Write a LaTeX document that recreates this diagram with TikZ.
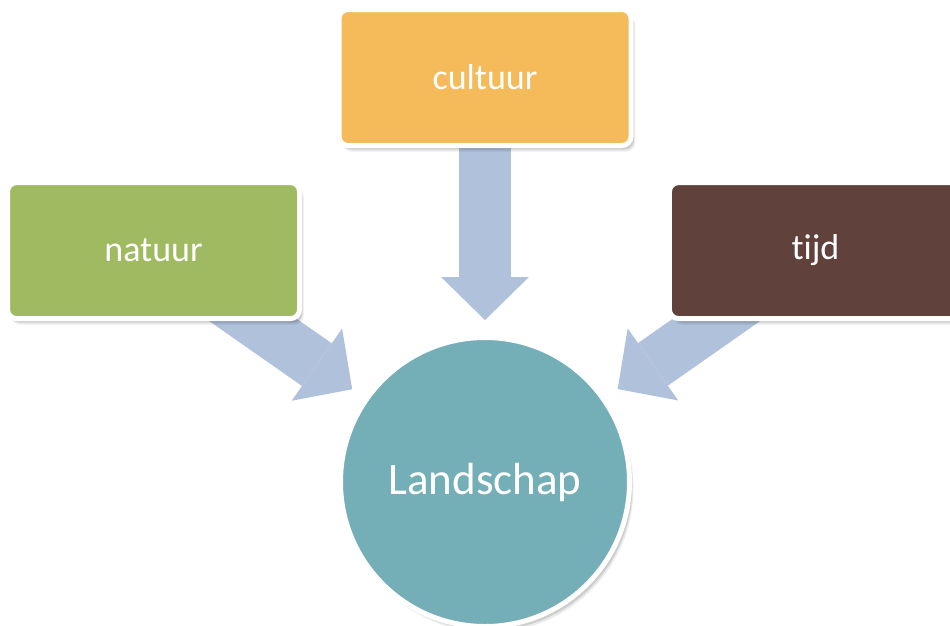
\documentclass[tikz,border=0pt]{standalone}
\usepackage{fontspec}
\setmainfont{Carlito}[Ligatures=NoCommon]
\usepackage{tikz}
\usetikzlibrary{positioning, shadows, backgrounds, arrows.meta}
\definecolor{natuurgreen}{HTML}{9FBA60}
\definecolor{cultuurorange}{HTML}{F5BB5A}
\definecolor{tijdbrown}{HTML}{60413B}
\definecolor{landteal}{HTML}{74AEB6}
\definecolor{arrowblue}{HTML}{B0C1DC}

\begin{document}
\begin{tikzpicture}[node distance=1cm, auto]
    % Define styles
    \tikzstyle{soft shadow} = [
        general shadow={shadow xshift=2pt, shadow yshift=-2pt, opacity=0.12, fill=black},
        general shadow={shadow xshift=3pt, shadow yshift=-4pt, opacity=0.12, fill=black},
        general shadow={shadow xshift=4pt, shadow yshift=-6pt, opacity=0.08, fill=black}]
    \tikzstyle{block} = [rectangle, draw=white, line width=5pt, rounded corners=9pt,
        minimum width=292pt, minimum height=136pt, text=white,
        font=\fontsize{36}{40}\selectfont, soft shadow]
    \tikzstyle{hub} = [circle, draw=white, line width=5pt, fill=landteal,
        minimum size=289pt, text=white, font=\fontsize{45}{50}\selectfont, soft shadow]
    \tikzstyle{line} = [draw=arrowblue, line width=52pt,
        -{Triangle[width=88pt, length=43pt, line width=0pt]}, shorten >=15pt]

    \useasboundingbox (0,0) rectangle (950pt,-625pt);

    % Place nodes
    \node [hub] (landschap) at (485pt,-482pt) {Landschap};
    \node [block, fill=cultuurorange, above=187pt of landschap] (cultuur) {cultuur};
    \node [block, fill=natuurgreen, above left=57pt and 79pt of landschap] (natuur) {natuur};
    \node [block, fill=tijdbrown, above right=57pt and 78pt of landschap] (tijd) {tijd};

    % Draw edges
    \begin{scope}[on background layer]
        \path [line] (cultuur.center) -- (landschap);
        \path [line] (natuur.center) -- (landschap);
        \path [line] (tijd.center) -- (landschap);
    \end{scope}
\end{tikzpicture}
\end{document}
